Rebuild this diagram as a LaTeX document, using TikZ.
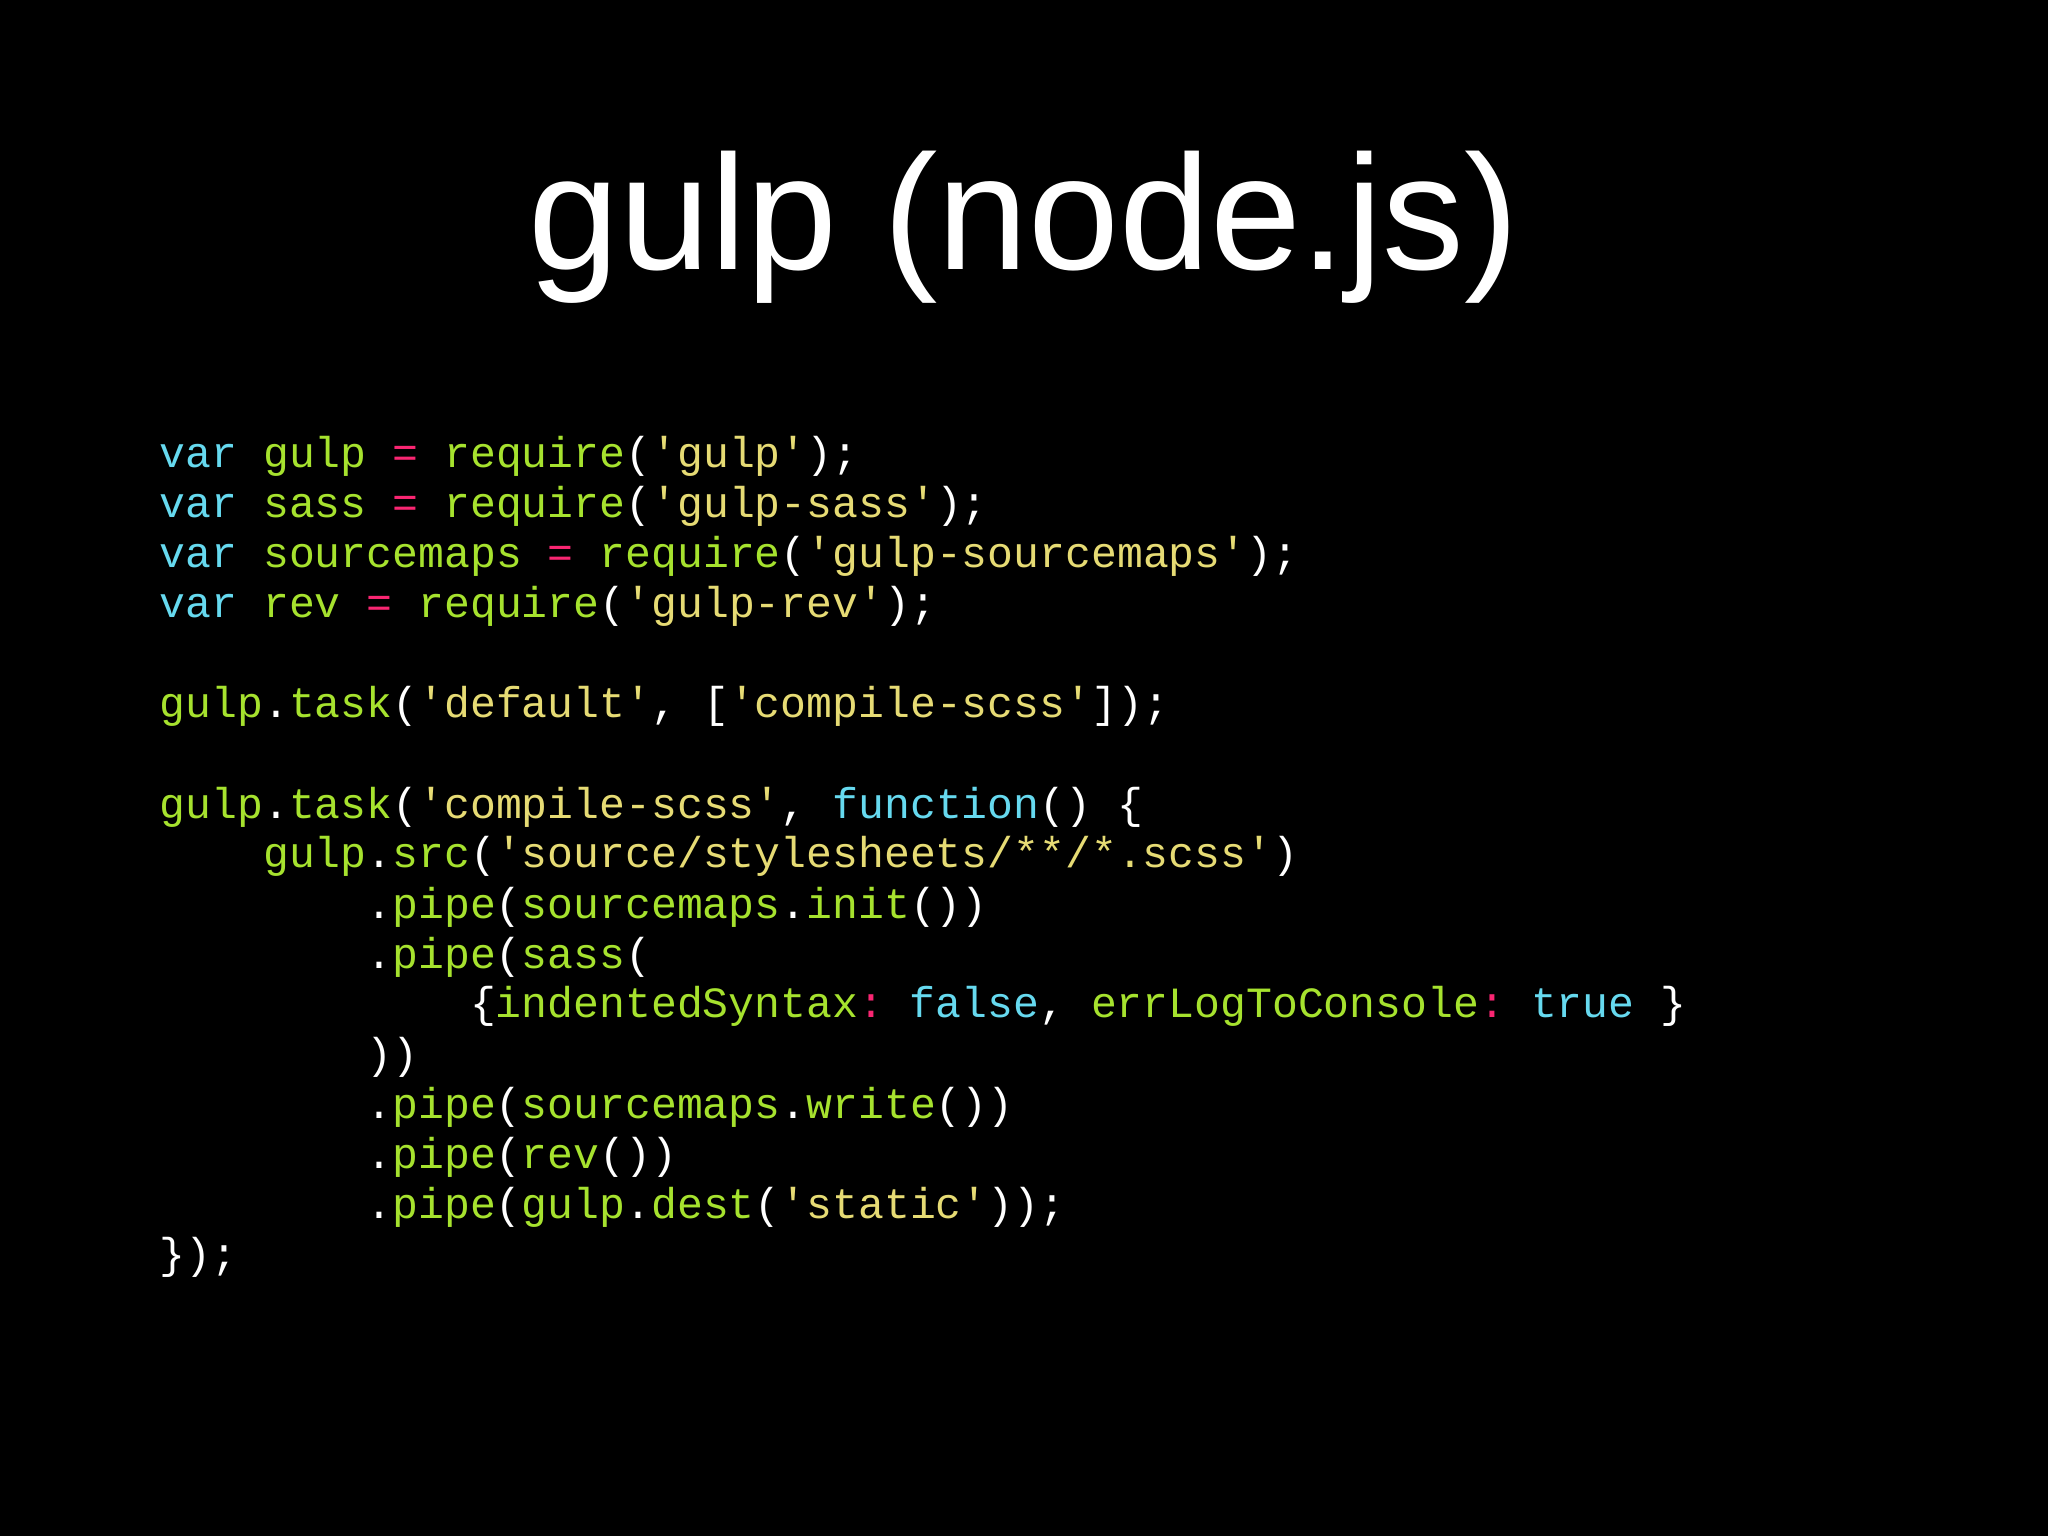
\documentclass[tikz,border=0pt]{standalone}
\usepackage{fontspec}
\setmainfont{Liberation Sans}
\setmonofont{Liberation Mono}
\definecolor{kcyan}{HTML}{66D9EF}
\definecolor{kgreen}{HTML}{A6E22E}
\definecolor{kyellow}{HTML}{E6DB74}
\definecolor{kpink}{HTML}{F92672}
\newcommand{\cK}[1]{\textcolor{kcyan}{#1}}
\newcommand{\cG}[1]{\textcolor{kgreen}{#1}}
\newcommand{\cY}[1]{\textcolor{kyellow}{#1}}
\newcommand{\cP}[1]{\textcolor{kpink}{#1}}
\tikzset{codeline/.style={anchor=base west,inner sep=0pt,text=white,font=\ttfamily\fontsize{12.27}{14}\selectfont}}
\begin{document}
\begin{tikzpicture}
\fill[black] (0,0) rectangle (20.48,-15.36);
\useasboundingbox (0,0) rectangle (20.48,-15.36);
\node[anchor=base,inner sep=0pt,text=white,font=\fontsize{46.5}{50}\selectfont] (title) at (10.24,-2.70) {gulp (node.js)};
\def\cx{0.2586}
\node[codeline] (l0) at (1.59,-4.68) {\cK{var}\ \cG{gulp}\ \cP{=}\ \cG{require}(\cY{'gulp'});};
\node[codeline] (l1) at (1.59,-5.18) {\cK{var}\ \cG{sass}\ \cP{=}\ \cG{require}(\cY{'gulp-sass'});};
\node[codeline] (l2) at (1.59,-5.68) {\cK{var}\ \cG{sourcemaps}\ \cP{=}\ \cG{require}(\cY{'gulp-sourcemaps'});};
\node[codeline] (l3) at (1.59,-6.18) {\cK{var}\ \cG{rev}\ \cP{=}\ \cG{require}(\cY{'gulp-rev'});};
\node[codeline] (l5) at (1.59,-7.18) {\cG{gulp}.\cG{task}(\cY{'default'},\ [\cY{'compile-scss'}]);};
\node[codeline] (l7) at (1.59,-8.18) {\cG{gulp}.\cG{task}(\cY{'compile-scss'},\ \cK{function}()\ \{};
\node[codeline] (l8) at ({1.59+4*\cx},-8.68) {\cG{gulp}.\cG{src}(\cY{'source/stylesheets/**/*.scss'})};
\node[codeline] (l9) at ({1.59+8*\cx},-9.18) {.\cG{pipe}(\cG{sourcemaps}.\cG{init}())};
\node[codeline] (l10) at ({1.59+8*\cx},-9.68) {.\cG{pipe}(\cG{sass}(};
\node[codeline] (l11) at ({1.59+12*\cx},-10.18) {\{\cG{indentedSyntax}\cP{:}\ \cK{false},\ \cG{errLogToConsole}\cP{:}\ \cK{true}\ \}};
\node[codeline] (l12) at ({1.59+8*\cx},-10.68) {))};
\node[codeline] (l13) at ({1.59+8*\cx},-11.18) {.\cG{pipe}(\cG{sourcemaps}.\cG{write}())};
\node[codeline] (l14) at ({1.59+8*\cx},-11.68) {.\cG{pipe}(\cG{rev}())};
\node[codeline] (l15) at ({1.59+8*\cx},-12.18) {.\cG{pipe}(\cG{gulp}.\cG{dest}(\cY{'static'}));};
\node[codeline] (l16) at (1.59,-12.68) {\});};
\end{tikzpicture}
\end{document}
